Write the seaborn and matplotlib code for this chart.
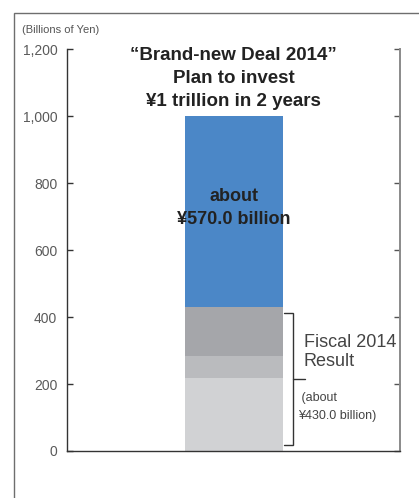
import matplotlib
matplotlib.use("Agg")
import matplotlib.pyplot as plt
import matplotlib.ticker as mticker
from matplotlib.patches import Rectangle
import pandas as pd
import seaborn as sns

# Investment plan broken into stacked components (billions of yen)
category = ["Plan"]
segment_names = ["Fiscal 2014 result (1)", "Fiscal 2014 result (2)",
                 "Fiscal 2014 result (3)", "Remaining plan"]
segment_values = [218, 66, 146, 570]
segment_colors = ["#d1d2d4", "#babbbe", "#a5a6aa", "#4b87c7"]
y_ticks = [0, 200, 400, 600, 800, 1000, 1200]

sns.set_theme(style="white")
plt.rcParams["font.family"] = ["Liberation Sans", "DejaVu Sans"]

fig = plt.figure(figsize=(4.19, 4.98), dpi=100)
ax = fig.add_axes([0.160, 0.0944, 0.795, 0.807])

# stacked bar drawn as overlaid cumulative totals, tallest first
cum = []
run = 0
for v in segment_values:
    run += v
    cum.append(run)
for name, total, color in reversed(list(zip(segment_names, cum, segment_colors))):
    df = pd.DataFrame({"cat": category, "value": [total]})
    sns.barplot(data=df, x="cat", y="value", color=color, width=0.6,
                saturation=1, linewidth=0, ax=ax)

ax.set_xlim(-1.02, 1.02)
ax.set_ylim(0, 1200)
ax.set_yticks(y_ticks)
ax.yaxis.set_major_formatter(mticker.FuncFormatter(lambda v, p: f"{int(v):,}"))
ax.set_xticks([])
ax.set_xlabel("")
ax.set_ylabel("")

ax.spines["top"].set_visible(False)
ax.spines["left"].set_color("#333333")
ax.spines["bottom"].set_color("#333333")
ax.spines["left"].set_linewidth(1.0)
ax.spines["bottom"].set_linewidth(1.0)
ax.spines["right"].set_color("#8a8a8a")
ax.spines["right"].set_linewidth(1.4)

ax.tick_params(axis="y", direction="in", length=4, width=1, color="#333333",
               labelsize=10, labelcolor="#5a5a5a", pad=7, left=True,
               right=False)
# right-hand scale marks
for t in y_ticks:
    ax.plot([1.02 - 0.035, 1.02], [t, t], color="#555555", lw=1.0,
            clip_on=False, solid_capstyle="butt")

# headline
ax.text(0, 1113, "\u201cBrand-new Deal 2014\u201d\nPlan to invest\n\u00a51 trillion in 2 years",
        ha="center", va="center", fontsize=13.5, fontweight="bold",
        color="#222222", linespacing=1.47)
ax.text(0, 725, "about\n\u00a5570.0 billion", ha="center", va="center",
        fontsize=13, fontweight="bold", color="#222222", linespacing=1.47)

# bracket for the fiscal 2014 result
bx = 0.361
ax.plot([0.306, bx, bx, 0.306], [412, 412, 18, 18], color="#333333", lw=1.0,
        solid_joinstyle="miter")
ax.plot([bx, 0.435], [215, 215], color="#333333", lw=1.0)
ax.text(0.429, 296, "Fiscal 2014\nResult", ha="left", va="center",
        fontsize=13, color="#444444", linespacing=1.1)
ax.text(0.395, 131, " (about\n\u00a5430.0 billion)", ha="left", va="center",
        fontsize=9, color="#444444", linespacing=1.75)

fig.text(22 / 419, 1 - 30 / 498, "(Billions of Yen)", ha="left", va="center",
         fontsize=8, color="#555555")

# outer frame
fig.patches.append(Rectangle((14 / 419, -0.2), 1.2, 1.2 - 13 / 498,
                             transform=fig.transFigure, fill=False,
                             edgecolor="#6e6e6e", lw=1.0))

fig.savefig("out.png", dpi=100)
